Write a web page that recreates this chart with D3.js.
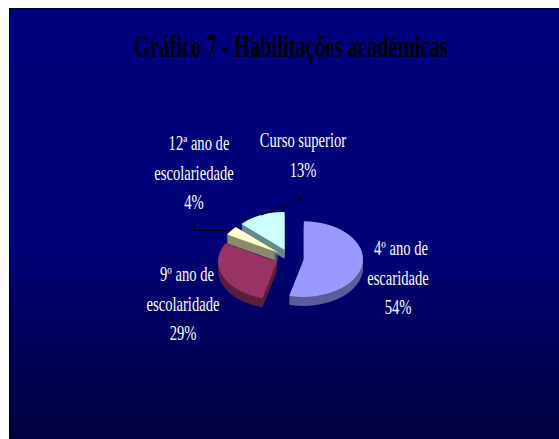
<!DOCTYPE html>
<html>
<head>
<meta charset="utf-8">
<script src="https://cdn.jsdelivr.net/npm/d3@7"></script>
<style>
    html, body { margin: 0; padding: 0; background: #fff; }
    text { font-family: "Liberation Serif", serif; }
</style>
</head>
<body>
<svg id="chart" width="559" height="439"></svg>
<script>
var title = "Gráfico 7 - Habilitações académicas";
var categories = ["4º ano de escaridade", "9º ano de escolaridade", "12ª ano de escolariedade", "Curso superior"];
var percents = [54, 29, 4, 13];
var topColors = ["#9999ff", "#993366", "#ffffcc", "#ccffff"];
var sideColors = ["#5c5c99", "#5c1f3d", "#8c8c6c", "#66898c"];

// label lines and where each block sits (centre x, first baseline)
var labelLines = [
    ["4º ano de", "escaridade", "54%"],
    ["9º ano de", "escolaridade", "29%"],
    ["12ª ano de", "escolariedade", "4%"],
    ["Curso superior", "13%"]
];
var labelPos = [[398, 255], [183, 281], [194, 150], [303, 147]];
var firstLineShift = [3, 4, 5, 0];
var leaderFrom = [null, null, [194, 223], [303, 193]];

var svg = d3.select("#chart");
var cx = 290, cy = 258, rx = 59, ratio = 0.64, explode = 14, depth = 9;

var defs = svg.append("defs");
var grad = defs.append("linearGradient")
    .attr("id", "bg")
    .attr("x1", 0).attr("y1", 0).attr("x2", 0).attr("y2", 1);
grad.append("stop").attr("offset", "0%").attr("stop-color", "#000080");
grad.append("stop").attr("offset", "55%").attr("stop-color", "#000078");
grad.append("stop").attr("offset", "100%").attr("stop-color", "#000040");

svg.append("rect")
    .attr("x", 9).attr("y", 8)
    .attr("width", 550).attr("height", 431)
    .attr("fill", "url(#bg)");
svg.append("path")
    .attr("d", "M9.5,439V8.5H559")
    .attr("fill", "none")
    .attr("stroke", "#000030");

// title is squeezed sideways to its measured width
var titleText = svg.append("text")
    .attr("text-anchor", "middle")
    .attr("font-size", 31)
    .attr("font-weight", "bold")
    .attr("fill", "#000")
    .text(title);
var titleScale = 314 / titleText.node().getComputedTextLength();
titleText.attr("transform", "translate(291,57) scale(" + titleScale + ",1)");

var pie = d3.pie().sort(null)(percents);
var arc = d3.arc().innerRadius(0).outerRadius(rx);

function offset(d) {
    var mid = (d.startAngle + d.endAngle) / 2;
    return [cx + Math.sin(mid) * explode, cy - Math.cos(mid) * explode * ratio];
}

// back slices first so the nearer ones cover them
var order = [3, 2, 1, 0];
var slices = svg.append("g").attr("class", "slices");
order.forEach(function (i) {
    var d = pie[i], o = offset(d);
    for (var k = depth; k >= 1; k--) {
        slices.append("path")
            .attr("d", arc(d))
            .attr("transform", "translate(" + o[0] + "," + (o[1] + k) + ") scale(1," + ratio + ")")
            .attr("fill", sideColors[i]);
    }
    slices.append("path")
        .attr("d", arc(d))
        .attr("transform", "translate(" + o[0] + "," + o[1] + ") scale(1," + ratio + ")")
        .attr("fill", topColors[i]);
});

// leader lines go from the label down to the rim of the slice
pie.forEach(function (d, i) {
    if (!leaderFrom[i]) return;
    var mid = (d.startAngle + d.endAngle) / 2, o = offset(d);
    var ex = o[0] + Math.sin(mid) * rx;
    var ey = o[1] - Math.cos(mid) * rx * ratio;
    var from = leaderFrom[i];
    var bend = i == 2 ? [from[0], ey] : [from[0], from[1] + 5];
    svg.append("polyline")
        .attr("points", [from, bend, [ex, ey]].join(" "))
        .attr("fill", "none")
        .attr("stroke", "#000")
        .attr("stroke-width", 1);
});

labelLines.forEach(function (lines, i) {
    lines.forEach(function (line, j) {
        var x = labelPos[i][0] + (j == 0 ? firstLineShift[i] : 0);
        svg.append("text")
            .attr("transform", "translate(" + x + "," + (labelPos[i][1] + j * 29.5) + ") scale(0.73,1)")
            .attr("text-anchor", "middle")
            .attr("font-size", 20)
            .attr("fill", "#fff")
            .text(line);
    });
});
</script>
</body>
</html>
